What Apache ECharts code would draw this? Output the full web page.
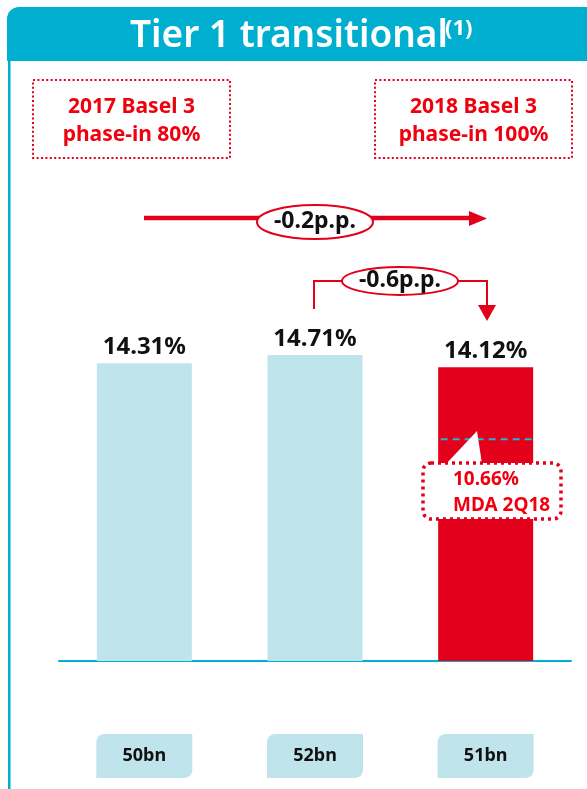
<!DOCTYPE html>
<html>
<head>
<meta charset="utf-8">
<style>
  html, body { margin: 0; padding: 0; background: #fff; }
  #chart { width: 587px; height: 789px; }
</style>
<script src="https://cdn.jsdelivr.net/npm/echarts@6.0.0/dist/echarts.min.js"></script>
</head>
<body>
<div id="chart"></div>
<script>
// data
var capitalBn = ['50bn', '52bn', '51bn'];
var tier1Ratio = [14.31, 14.71, 14.12];
var mdaValue = 10.66;
var mdaLabel = 'MDA 2Q18';
var phaseInNotes = ['2017 Basel 3\nphase-in 80%', '2018 Basel 3\nphase-in 100%'];
var deltaNotes = ['-0.2p.p.', '-0.6p.p.'];

var CYAN = '#00AFCF';
var LIGHT = '#C0E4EC';
var RED = '#E2001A';
var TEXT_RED = '#F0000F';
var FONT = '"Noto Sans", "Open Sans", sans-serif';

var chart = echarts.init(document.getElementById('chart'));

function dottedBox(x, y, text) {
    return [{
        type: 'rect',
        shape: { x: x, y: y, width: 197, height: 78 },
        style: { fill: '#fff', stroke: RED, lineWidth: 2, lineDash: [2, 2.4] }
    }, {
        type: 'text',
        x: x + 98.5, y: y + 41,
        style: {
            text: text, fill: TEXT_RED, font: 'bold 21px ' + FONT,
            align: 'center', verticalAlign: 'middle', lineHeight: 28
        }
    }];
}

function bubble(cx, cy, rx, ry, text) {
    return [{
        type: 'ellipse',
        shape: { cx: cx, cy: cy, rx: rx, ry: ry },
        style: { fill: '#fff', stroke: RED, lineWidth: 2 },
        z: 10
    }, {
        type: 'text',
        x: cx, y: cy - 1,
        style: {
            text: text, fill: '#111', font: 'bold 23px ' + FONT,
            align: 'center', verticalAlign: 'middle'
        },
        z: 11
    }];
}

var graphics = [
    // title bar
    { type: 'rect', shape: { x: 7, y: 7, width: 590, height: 54, r: [12, 0, 0, 0] },
      style: { fill: CYAN } },
    { type: 'text', x: 130, y: 36,
      style: { text: 'Tier 1 transitional', fill: '#fff', font: '600 37px ' + FONT,
               align: 'left', verticalAlign: 'middle' } },
    { type: 'text', x: 445, y: 29,
      style: { text: '(1)', fill: '#fff', font: 'bold 22px ' + FONT,
               align: 'left', verticalAlign: 'middle' } },
    // left frame line
    { type: 'rect', shape: { x: 8, y: 60, width: 2.5, height: 740 }, style: { fill: CYAN } },

    // long arrow
    { type: 'polyline', shape: { points: [[144, 218], [472, 218]] },
      style: { stroke: RED, lineWidth: 4.5 } },
    { type: 'polygon', shape: { points: [[469, 211], [487, 218.5], [469, 226]] },
      style: { fill: RED } },

    // short bracket arrow
    { type: 'polyline', shape: { points: [[314, 309], [314, 281], [487, 281], [487, 308]] },
      style: { stroke: RED, lineWidth: 2 } },
    { type: 'polygon', shape: { points: [[478, 305], [496, 305], [487, 321]] },
      style: { fill: RED } }
];

graphics = graphics
    .concat(dottedBox(33, 80, phaseInNotes[0]))
    .concat(dottedBox(375, 80, phaseInNotes[1]))
    .concat(bubble(315, 222, 58, 17, deltaNotes[0]))
    .concat(bubble(400, 281, 58, 14, deltaNotes[1]));

// MDA callout
graphics.push(
    { type: 'polygon', shape: { points: [[446, 464], [477, 431], [482, 464]] },
      style: { fill: '#fff' }, z: 20 },
    { type: 'rect', shape: { x: 423, y: 463, width: 138, height: 56, r: 8 },
      style: { fill: '#fff', stroke: RED, lineWidth: 3.5, lineDash: [3, 4] }, z: 20 },
    { type: 'text', x: 453, y: 480, z: 21,
      style: { text: mdaValue.toFixed(2) + '%', fill: TEXT_RED, font: 'bold 19px ' + FONT,
               align: 'left', verticalAlign: 'middle' } },
    { type: 'text', x: 453, y: 506, z: 21,
      style: { text: mdaLabel, fill: TEXT_RED, font: 'bold 19px ' + FONT,
               align: 'left', verticalAlign: 'middle' } }
);

chart.setOption({
    animation: false,
    textStyle: { fontFamily: FONT },
    grid: { left: 59, right: 16, top: 245, bottom: 128, containLabel: false },
    xAxis: {
        type: 'category',
        data: capitalBn,
        axisLine: { lineStyle: { color: CYAN, width: 2 } },
        axisTick: { show: false },
        axisLabel: {
            margin: 73,
            width: 96,
            height: 44,
            lineHeight: 44,
            align: 'center',
            backgroundColor: LIGHT,
            borderRadius: [8, 0, 8, 0],
            color: '#111',
            fontSize: 18,
            fontWeight: 'bold'
        }
    },
    yAxis: { type: 'value', min: 0, max: 20, show: false },
    series: [{
        type: 'bar',
        data: tier1Ratio,
        barWidth: 95,
        itemStyle: {
            color: function (p) { return p.dataIndex === 2 ? RED : LIGHT; }
        },
        label: {
            show: true,
            position: 'top',
            distance: 4,
            color: '#111',
            fontSize: 24,
            fontWeight: 'bold',
            formatter: function (p) { return p.value.toFixed(2) + '%'; }
        }
    }, {
        // MDA threshold drawn on the last bar
        type: 'custom',
        data: [[2, mdaValue]],
        z: 5,
        renderItem: function (params, api) {
            var pt = api.coord([api.value(0), api.value(1)]);
            return {
                type: 'line',
                shape: { x1: pt[0] - 45, y1: pt[1], x2: pt[0] + 50, y2: pt[1] },
                style: { stroke: '#2BB0D6', lineWidth: 2, lineDash: [7, 5] }
            };
        }
    }],
    graphic: graphics
});
</script>
</body>
</html>
